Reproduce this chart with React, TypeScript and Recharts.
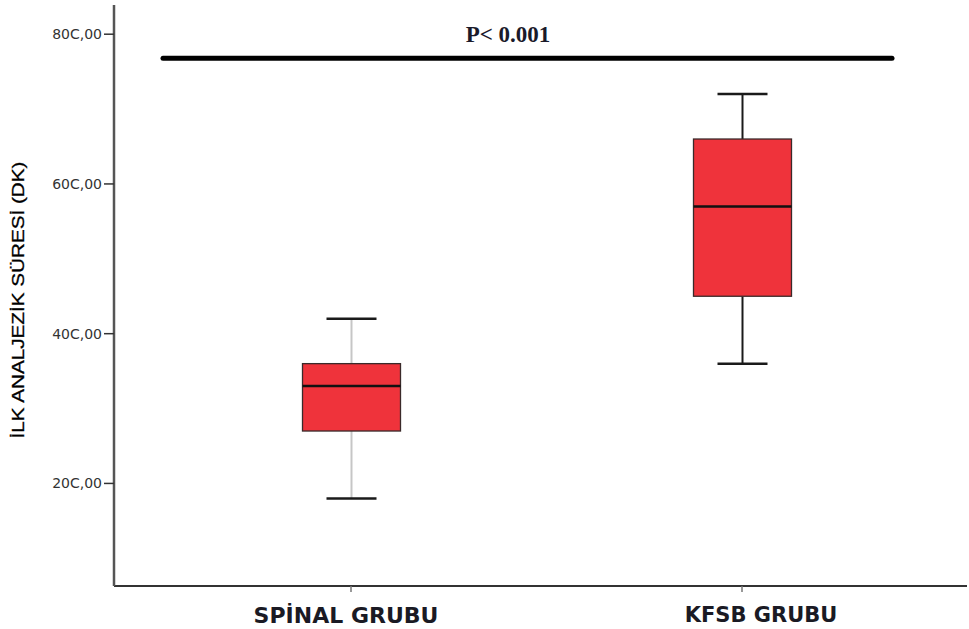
import React from 'react';
import { ComposedChart, Bar, XAxis, YAxis, ReferenceLine, Label } from 'recharts';

const categories = ['SPİNAL GRUBU', 'KFSB GRUBU'];
const minValues = [18, 36];
const q1Values = [27, 45];
const medianValues = [33, 57];
const q3Values = [36, 66];
const maxValues = [42, 72];
const yTicks = [20, 40, 60, 80];
const yTickLabels = ['20C,00', '40C,00', '60C,00', '80C,00'];
const yDomain = [6.3, 83.9];
const significanceY = 76.8;
const significanceText = 'P< 0.001';
const yAxisTitle = 'İLK ANALJEZİK SÜRESİ (DK)';

const whiskerColors = ['#c6c6c6', '#1a1a1a'];
const tickLabelShift = [-5, 19];

const data = categories.map((name, i) => ({
  name,
  min: minValues[i],
  q1: q1Values[i],
  median: medianValues[i],
  q3: q3Values[i],
  max: maxValues[i],
  range: [minValues[i], maxValues[i]],
}));

const BoxShape = (props: any) => {
  const { x, y, width, height, payload } = props;
  if (!payload) return null;
  const { min, q1, median, q3, max, name } = payload;
  const top = Math.min(y, y + height);
  const h = Math.abs(height);
  const scale = h / (max - min);
  const py = (v: number) => top + (max - v) * scale;
  const cx = x + width / 2;
  const capHalf = 25;
  const idx = categories.indexOf(name);
  const wc = whiskerColors[idx] || '#1a1a1a';
  return (
    <g>
      <line x1={cx} x2={cx} y1={py(max)} y2={py(q3)} stroke={wc} strokeWidth={2} />
      <line x1={cx} x2={cx} y1={py(q1)} y2={py(min)} stroke={wc} strokeWidth={2} />
      <line x1={cx - capHalf} x2={cx + capHalf} y1={py(max)} y2={py(max)} stroke="#1a1a1a" strokeWidth={2.5} />
      <line x1={cx - capHalf} x2={cx + capHalf} y1={py(min)} y2={py(min)} stroke="#1a1a1a" strokeWidth={2.5} />
      <rect x={x} y={py(q3)} width={width} height={py(q1) - py(q3)} fill="#ef333b" stroke="#3a2a2a" strokeWidth={1.3} />
      <line x1={x} x2={x + width} y1={py(median)} y2={py(median)} stroke="#111" strokeWidth={2.5} />
    </g>
  );
};

const SigLine = (props: any) => {
  const { x1, x2, y1 } = props;
  return (
    <g>
      <line x1={x1 + 49} x2={x2 - 75} y1={y1} y2={y1} stroke="#000" strokeWidth={5} strokeLinecap="round" />
      <text
        x={x1 + 394}
        y={y1 - 16}
        textAnchor="middle"
        fontFamily="'Liberation Serif', 'Times New Roman', serif"
        fontWeight="bold"
        fontSize={23}
        fill="#1a1a2a"
      >
        {significanceText}
      </text>
    </g>
  );
};

const XTick = (props: any) => {
  const { x, y, payload, index } = props;
  const shift = tickLabelShift[index] ?? 0;
  return (
    <text
      x={x + shift}
      y={y}
      dy="0.71em"
      textAnchor="middle"
      fontFamily="'DejaVu Sans', Verdana, sans-serif"
      fontWeight="bold"
      fontSize={index === 1 ? 21 : 22}
      fill="#1a1a24"
    >
      {payload.value}
    </text>
  );
};

const YTitle = () => {
  const cx = 18;
  const cy = 300;
  return (
    <text
      x={cx}
      y={cy}
      transform={`rotate(-90, ${cx}, ${cy})`}
      textAnchor="middle"
      dominantBaseline="central"
      fontFamily="'Liberation Sans', Arial, sans-serif"
      fontSize={16.5}
      fill="#000"
      stroke="#000"
      strokeWidth={0.3}
      textLength={277}
      lengthAdjust="spacingAndGlyphs"
    >
      {yAxisTitle}
    </text>
  );
};

export default function App() {
  return (
    <div style={{ position: 'absolute', left: 0, top: 0, background: '#fff' }}>
      <ComposedChart width={969} height={629} data={data} margin={{ top: 5, right: 2, bottom: 0, left: 0 }}>
        <XAxis
          dataKey="name"
          type="category"
          padding={{ left: 41.5, right: 29.5 }}
          axisLine={{ stroke: '#333', strokeWidth: 2 }}
          tickLine={{ stroke: '#777', strokeWidth: 1.5 }}
          tickSize={6}
          tickMargin={15}
          height={43}
          tick={<XTick />}
        />
        <XAxis
          xAxisId="top"
          dataKey="name"
          orientation="top"
          height={0}
          tick={false}
          tickLine={false}
          axisLine={{ stroke: '#8c8c8c', strokeWidth: 2 }}
        />
        <YAxis
          type="number"
          domain={yDomain}
          ticks={yTicks}
          width={114}
          allowDataOverflow
          tickFormatter={(v: number) => yTickLabels[yTicks.indexOf(v)] ?? String(v)}
          axisLine={{ stroke: '#555', strokeWidth: 2.5 }}
          tickLine={{ stroke: '#333', strokeWidth: 1.5 }}
          tickSize={10}
          tickMargin={2}
          tick={{ fontFamily: "'DejaVu Sans', Verdana, sans-serif", fontSize: 14, fill: '#333' }}
        >
          <Label content={<YTitle />} />
        </YAxis>
        <Bar dataKey="range" barSize={98} shape={<BoxShape />} isAnimationActive={false} />
        <ReferenceLine y={significanceY} shape={<SigLine />} ifOverflow="extendDomain" />
      </ComposedChart>
    </div>
  );
}
